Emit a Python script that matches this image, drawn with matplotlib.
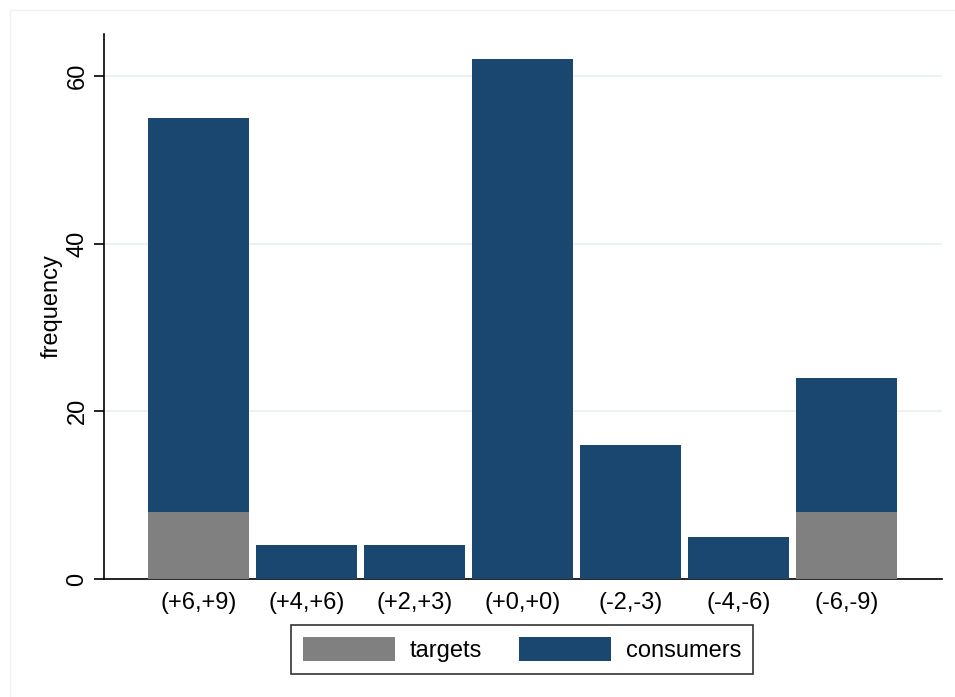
import numpy as np
import matplotlib.pyplot as plt
from matplotlib.patches import Rectangle

plt.rcParams['font.family'] = ['Liberation Sans', 'DejaVu Sans']

# Daten
kategorien = ['(+6,+9)', '(+4,+6)', '(+2,+3)', '(+0,+0)', '(-2,-3)', '(-4,-6)', '(-6,-9)']
targets = [8, 0, 0, 0, 0, 0, 8]
consumers = [47, 4, 4, 62, 16, 5, 16]
yticks = [0, 20, 40, 60]

col_targets = '#808080'
col_consumers = '#1a476f'

W, H = 955, 697
fig = plt.figure(figsize=(W / 100, H / 100), dpi=100)
fig.patch.set_facecolor('white')

# aeusserer Rahmen (nur oben/links sichtbar)
fig.patches.append(Rectangle((10 / W, -0.1), 2, 1 - 10 / H + 0.1, transform=fig.transFigure,
                             fill=False, edgecolor='#eef2f3', lw=1))

ax = fig.add_axes([104 / W, 1 - 579 / H, (942 - 104) / W, (579 - 34) / H])

x = np.arange(1, len(kategorien) + 1)
breite = 101 / 108
ax.bar(x, targets, width=breite, color=col_targets, label='targets', zorder=3)
ax.bar(x, consumers, width=breite, bottom=targets, color=col_consumers, label='consumers', zorder=3)

ax.set_xlim(1 - 94.5 / 108, 7 + 95.5 / 108)
ax.set_ylim(0, 65)
ax.set_yticks(yticks)
ax.set_yticklabels([str(v) for v in yticks], rotation=90, va='center', fontsize=17)
ax.set_xticks(x)
ax.set_xticklabels(kategorien, fontsize=17)
ax.tick_params(axis='x', length=0, pad=9)
ax.tick_params(axis='y', length=7.2, width=1.2, pad=4)
ax.set_ylabel('frequency', fontsize=17, labelpad=3)

ax.grid(axis='y', color='#eaf2f3', lw=1.5, zorder=0)
ax.set_axisbelow(True)
for s in ['top', 'right']:
    ax.spines[s].set_visible(False)
ax.spines['left'].set_linewidth(1.2)
ax.spines['bottom'].set_linewidth(1.2)

leg = fig.legend(loc='center', bbox_to_anchor=(522 / W, 1 - 649.5 / H), ncol=2,
                 fontsize=17, frameon=True, fancybox=False, edgecolor='black',
                 handlelength=3.9, handleheight=1.15, columnspacing=1.6, handletextpad=0.62,
                 borderpad=0.5, borderaxespad=0)
leg.get_frame().set_linewidth(1.2)

plt.savefig('out.png', dpi=100)
